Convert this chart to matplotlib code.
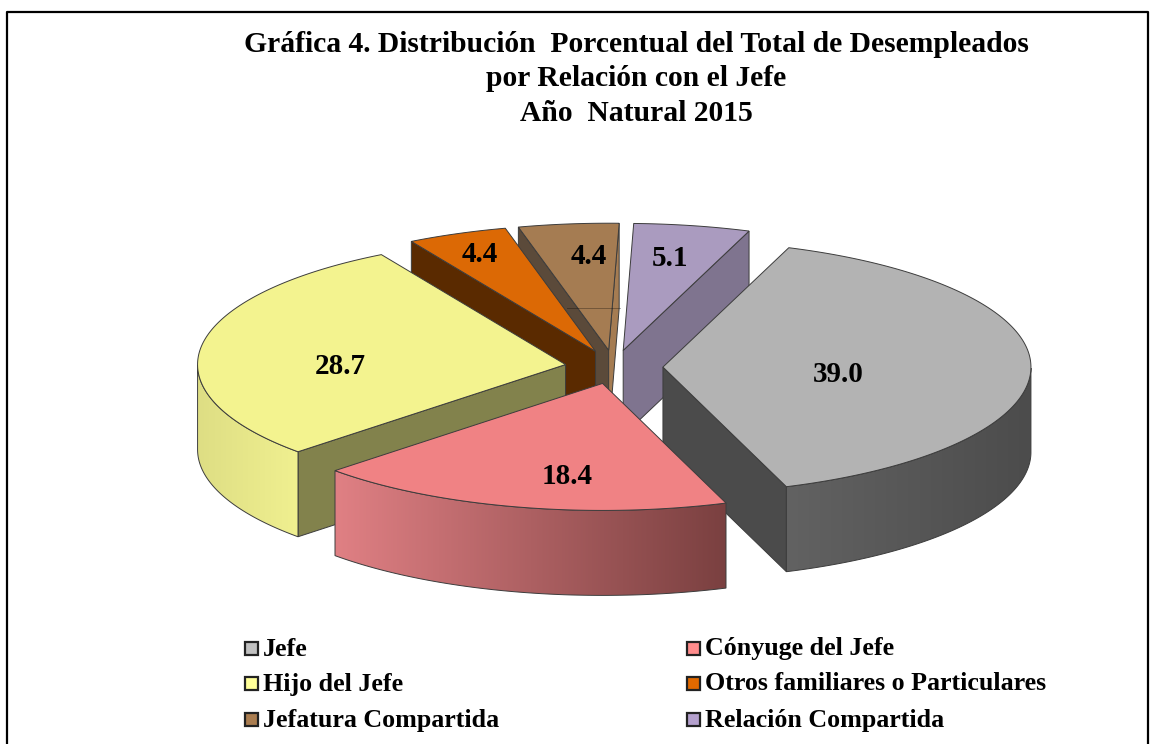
import numpy as np
import matplotlib
matplotlib.use('Agg')
import matplotlib.pyplot as plt
from matplotlib.patches import Polygon, Rectangle
from matplotlib.colors import LinearSegmentedColormap

# Datos de la grafica
categorias = ['Jefe', 'Cónyuge del Jefe', 'Hijo del Jefe',
              'Otros familiares o Particulares', 'Jefatura Compartida', 'Relación Compartida']
valores = [39.0, 18.4, 28.7, 4.4, 4.4, 5.1]
etiquetas = ['39.0', '18.4', '28.7', '4.4', '4.4', '5.1']
titulo = ['Gráfica 4. Distribución  Porcentual del Total de Desempleados',
          'por Relación con el Jefe',
          'Año  Natural 2015']

# Colores: tapa, pared izquierda/derecha, borde lateral (inicio, fin), leyenda
c_tapa = ['#b3b3b3', '#f08284', '#f3f38f', '#dc6905', '#a57c52', '#aa9bbf']
c_pared_ini = ['#4b4b4b', '#7f3f3f', '#82824c', '#5a2a00', '#5b4a3a', '#7f748f']
c_pared_fin = ['#4b4b4b', '#7f3f3f', '#82824c', '#5a2a00', '#a57c52', '#7f748f']
c_lado = [('#626262', '#4c4c4c'), ('#e08084', '#7a4040'), ('#dede84', '#f0f090'),
          ('#dc6905', '#dc6905'), ('#a57c52', '#a57c52'), ('#aa9bbf', '#aa9bbf')]
c_leyenda = ['#c0c0c0', '#ff8c8c', '#ffff99', '#e16900', '#aa7d50', '#b4a0cd']

# Geometria de la torta en pixeles
cx, cy = 614, 367
a, b = 368, 127
separa = 0.133
prof = 85
ang0 = 20.0
orden = [5, 4, 3, 2, 0, 1]  # de atras hacia adelante

pos_etq = [(838, 375), (567, 476), (340, 366), (480, 255), (589, 256), (670, 258)]
pos_ley = [(244, 648), (686, 648), (244, 683), (686, 683), (244, 719), (686, 719)]
borde = '#3c3c3c'

plt.rcParams['font.family'] = ['Liberation Serif', 'DejaVu Serif']
fig = plt.figure(figsize=(11.53, 7.44), dpi=100)
ax = fig.add_axes([0, 0, 1, 1])
ax.set_xlim(0, 1153)
ax.set_ylim(744, 0)
ax.axis('off')
ax.set_autoscale_on(False)

# marco
ax.plot([6.5, 6.5, 1148, 1148], [744, 12, 12, 744], color='black', lw=1.6, zorder=1)

fracs = np.array(valores) / sum(valores) * 360
inicio = ang0 + np.concatenate(([0], np.cumsum(fracs)[:-1]))
z = 2


def punto(t, ox, oy):
    t = np.radians(t)
    return ox + a * np.sin(t), oy - b * np.cos(t)


for i in orden:
    t1 = inicio[i]
    t2 = t1 + fracs[i]
    med = np.radians((t1 + t2) / 2)
    ox = cx + separa * a * np.sin(med)
    oy = cy - separa * b * np.cos(med)

    # paredes radiales que miran al observador
    for ang, col, visible in [(t1, c_pared_ini[i], np.sin(np.radians(t1)) < 0),
                              (t2, c_pared_fin[i], np.sin(np.radians(t2)) > 0)]:
        if visible:
            px, py = punto(ang, ox, oy)
            ax.add_patch(Polygon([(ox, oy), (px, py), (px, py + prof), (ox, oy + prof)],
                                 closed=True, fc=col, ec=borde, lw=0.7, zorder=z))
            z += 1

    # borde curvo del frente con degradado
    tt = np.linspace(t1, t2, 300)
    tt = tt[np.cos(np.radians(tt)) <= 0]
    if len(tt) > 1:
        sx, sy = punto(tt, ox, oy)
        verts = np.vstack([np.column_stack([sx, sy]), np.column_stack([sx[::-1], sy[::-1] + prof])])
        poly = Polygon(verts, closed=True, fc='none', ec=borde, lw=0.7, zorder=z + 1)
        ax.add_patch(poly)
        cmap = LinearSegmentedColormap.from_list('lado', c_lado[i])
        img = ax.imshow(np.linspace(0, 1, 256).reshape(1, -1), cmap=cmap, aspect='auto',
                        extent=[sx.min(), sx.max(), sy.max() + prof, sy.min()], zorder=z)
        img.set_clip_path(poly)
        z += 2

    # tapa
    tt = np.linspace(t1, t2, 200)
    sx, sy = punto(tt, ox, oy)
    verts = np.vstack([[ox, oy], np.column_stack([sx, sy])])
    ax.add_patch(Polygon(verts, closed=True, fc=c_tapa[i], ec=borde, lw=0.7, zorder=z))
    z += 1

    # linea tenue que se transparenta en Jefatura Compartida
    if i == 4:
        ax.plot([567, 620], [308, 308], color='black', lw=0.7, alpha=0.3, zorder=z)
        z += 1

ax.set_xlim(0, 1153)
ax.set_ylim(744, 0)

# etiquetas de valores
for txt, (x, y) in zip(etiquetas, pos_etq):
    ax.text(x, y, txt, fontsize=21, fontweight='bold', ha='center', va='center', zorder=z)

# titulo
for txt, y in zip(titulo, [52, 86, 121]):
    ax.text(636, y, txt, fontsize=21.3, fontweight='bold', ha='center', va='baseline', zorder=z)

# leyenda
for nom, col, (x, y) in zip(categorias, c_leyenda, pos_ley):
    ax.add_patch(Rectangle((x + 1, y - 6.5), 13, 13, fc=col, ec='#222222', lw=1.6, zorder=z))
    ax.text(x + 19, y + 1, nom, fontsize=18.7, fontweight='bold', ha='left', va='center', zorder=z)

fig.savefig('out.png', dpi=100)
